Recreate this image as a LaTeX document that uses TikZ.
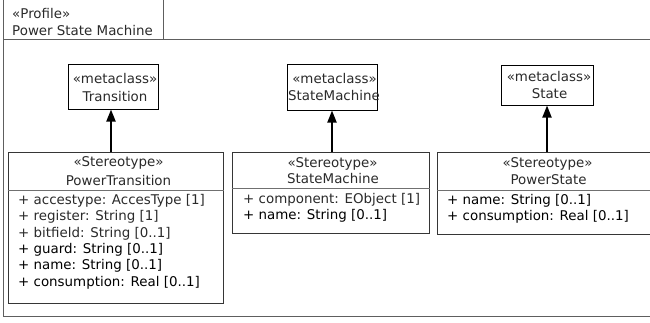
\documentclass[tikz,border=0pt]{standalone}
\usepackage{fontspec}
\setmainfont{DejaVu Sans}
\usetikzlibrary{arrows.meta}
\definecolor{txt}{HTML}{2A2A2A}
\definecolor{boxline}{HTML}{363636}
\definecolor{frameline}{HTML}{5E5E5E}
\definecolor{sepline}{HTML}{707070}
\begin{document}
\begin{tikzpicture}[x=1pt,y=-1pt,
  every node/.style={font=\fontsize{13.4pt}{16.3pt}\selectfont},
  framedraw/.style={draw=frameline,line width=1pt},
  metabox/.style={draw=black,line width=1pt,inner sep=0pt,rectangle},
  stereobox/.style={draw=boxline,line width=1pt,inner sep=0pt,rectangle},
  sepdraw/.style={draw=sepline,line width=1pt},
  lab/.style={inner sep=0pt,anchor=base,text=txt},
  attr/.style={inner sep=0pt,anchor=base west,text=txt},
  attrb/.style={attr,text=black},
  gen/.style={draw=black,line width=1.8pt,-{Triangle[width=9pt,length=12pt]}}
]
\useasboundingbox (0,0) rectangle (650,322);
% package frame
\draw[framedraw] (3,-5) -- (3,316) -- (660,316);
\draw[framedraw] (3,39) -- (660,39);
\draw[framedraw] (163,-5) -- (163,39);
\node[attr] (pkgst) at (12,18.3) {«Profile»};
\node[attr] (pkgnm) at (12,35) {Power State Machine};
% metaclasses
\node[metabox,minimum width=90pt,minimum height=45pt] (tr) at (113,86.5) {};
\node[lab] (trs) at (115,83.3) {«metaclass»};
\node[lab] (trn) at (115,101) {Transition};
\node[metabox,minimum width=90pt,minimum height=46pt] (smm) at (332,87) {};
\node[lab] (smms) at (334.5,83.3) {«metaclass»};
\node[lab] (smmn) at (334,100.7) {StateMachine};
\node[metabox,minimum width=92pt,minimum height=40pt] (st) at (547,85) {};
\node[lab] (sts) at (549,81.7) {«metaclass»};
\node[lab] (stn) at (549.5,98.3) {State};
% stereotypes
\node[stereobox,minimum width=215pt,minimum height=151pt] (ptr) at (115.5,227.5) {};
\draw[sepdraw] (ptr.west |- 0,190) -- (ptr.east |- 0,190);
\node[lab] (ptrs) at (118.5,166.7) {«Stereotype»};
\node[lab] (ptrn) at (118.5,185) {PowerTransition};
\node[attr] (a1) at (18,204.5) {+ accestype: AccesType [1]};
\node[attr] (a2) at (18,220.8) {+ register: String [1]};
\node[attr] (a3) at (18,237.1) {+ bitfield: String [0..1]};
\node[attrb] (a4) at (18,253.4) {+ guard: String [0..1]};
\node[attrb] (a5) at (18,269.7) {+ name: String [0..1]};
\node[attrb] (a6) at (18,286) {+ consumption: Real [0..1]};
\node[stereobox,minimum width=197pt,minimum height=81pt] (psm) at (330.5,192.5) {};
\draw[sepdraw] (psm.west |- 0,188) -- (psm.east |- 0,188);
\node[lab] (psms) at (332.5,167.3) {«Stereotype»};
\node[lab] (psmn) at (333,183.3) {StateMachine};
\node[attr] (b1) at (243,203.5) {+ component: EObject [1]};
\node[attrb] (b2) at (243,219.8) {+ name: String [0..1]};
\node[stereobox,minimum width=220pt,minimum height=82pt] (pst) at (547,193) {};
\draw[sepdraw] (pst.west |- 0,190) -- (pst.east |- 0,190);
\node[lab] (psts) at (547.5,167.3) {«Stereotype»};
\node[lab] (pstn) at (548.5,184.3) {PowerState};
\node[attrb] (c1) at (447,204) {+ name: String [0..1]};
\node[attrb] (c2) at (447,220.3) {+ consumption: Real [0..1]};
% generalisations / extensions
\draw[gen] ([xshift=-2pt]tr.south |- ptr.north) -- ([xshift=-2pt]tr.south);
\draw[gen] (smm.south |- psm.north) -- (smm.south);
\draw[gen] (st.south |- pst.north) -- (st.south);
\end{tikzpicture}
\end{document}
